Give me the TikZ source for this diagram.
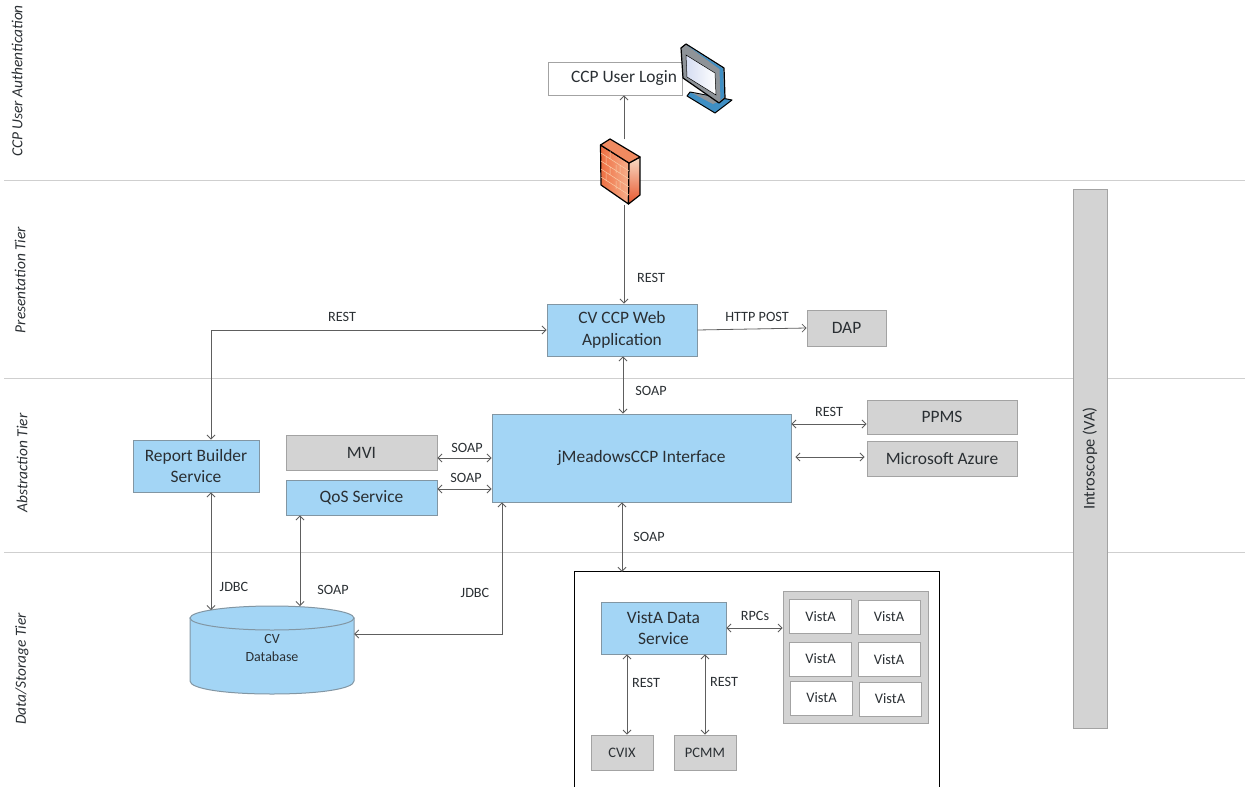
\documentclass[tikz,border=0pt]{standalone}
\usepackage{fontspec}
\setmainfont{Carlito}
\usetikzlibrary{arrows.meta}
\definecolor{bluefill}{HTML}{A3D5F5}
\definecolor{blueedge}{HTML}{8296A3}
\definecolor{greyfill}{HTML}{D3D3D3}
\definecolor{greyedge}{HTML}{A3A3A3}
\definecolor{inktext}{HTML}{2A2F33}
\definecolor{wire}{HTML}{5E5E5E}
\definecolor{tier}{HTML}{CFCFCF}
\definecolor{brick}{HTML}{F9CDA8}
\definecolor{wallA}{HTML}{EE6F42}
\definecolor{wallB}{HTML}{F6B08C}
\definecolor{wallC}{HTML}{E8552C}
\definecolor{wallD}{HTML}{F8DCC6}
\definecolor{wallE}{HTML}{F08A60}
\definecolor{monblue}{HTML}{3F8FC4}
\definecolor{mongrey}{HTML}{8E9398}
\definecolor{monlight}{HTML}{D5DDF2}
\tikzset{
  basebox/.style={inner sep=0pt,align=center,text=inktext,font=\fontsize{17.4}{21.5}\selectfont,line width=.9pt},
  bluebox/.style={basebox,draw=blueedge,fill=bluefill},
  greybox/.style={basebox,draw=greyedge,fill=greyfill},
  whitebox/.style={basebox,draw=greyedge,fill=white},
  vistabox/.style={whitebox,minimum width=62pt,minimum height=34pt,font=\fontsize{14.5}{17}\selectfont},
  sz/.style 2 args={minimum width=#1pt,minimum height=#2pt},
  lbl/.style={inner sep=0pt,text=inktext,font=\fontsize{14.2}{17}\selectfont},
  tierlbl/.style={inner sep=0pt,rotate=90,text=inktext,font=\itshape\fontsize{15.4}{18}\selectfont},
  conn/.style={draw=wire,line width=.8pt,{Straight Barb[length=4pt,width=8pt]}-{Straight Barb[length=4pt,width=8pt]}},
  connone/.style={draw=wire,line width=.8pt,-{Straight Barb[length=4pt,width=8pt]}},
  tierline/.style={draw=tier,line width=.8pt}
}
\begin{document}
\begin{tikzpicture}[x=1pt,y=-1pt]
\useasboundingbox (0,0) rectangle (1245,787);
% tier rules
\coordinate (la) at (4,180); \coordinate (ra) at (1245,180);
\coordinate (lb) at (4,378); \coordinate (rb) at (1245,378);
\coordinate (lc) at (4,552); \coordinate (rc) at (1245,552);
\draw[tierline] (la) -- (ra);
\draw[tierline] (lb) -- (rb);
\draw[tierline] (lc) -- (rc);
% tier labels
\node[tierlbl] (t1) at (17,81) {CCP User Authentication};
\node[tierlbl] (t2) at (20,280) {Presentation Tier};
\node[tierlbl] (t3) at (22,463) {Abstraction Tier};
\node[tierlbl] (t4) at (22,669) {Data/Storage Tier};
% nodes
\node[whitebox,sz={134}{33}] (login) at (615,78.5) {\hspace*{18pt}CCP User Login};
\node[bluebox,sz={150}{52}] (web) at (622,330) {CV CCP Web\\Application};
\node[greybox,sz={79}{36}] (dap) at (846.5,328) {DAP};
\node[bluebox,sz={299}{88}] (jm) at (641.5,458) {jMeadowsCCP Interface};
\node[greybox,sz={150}{34}] (ppms) at (942,417) {PPMS};
\node[greybox,sz={150}{35}] (azure) at (942,458.5) {Microsoft Azure};
\node[greybox,sz={151}{35}] (mvi) at (361.5,452.5) {MVI};
\node[bluebox,sz={151}{35}] (qos) at (361.5,497.5) {QoS Service};
\node[bluebox,sz={126}{52}] (report) at (196,466) {Report Builder\\Service};
% database
\node[inner sep=0pt,sz={164}{88}] (db) at (272,650) {};
\fill[bluefill,draw=blueedge,line width=1pt] (190,618) -- (190,681) .. controls (190,689) and (226,694) .. (272,694) .. controls (318,694) and (354,689) .. (354,681) -- (354,618) -- cycle;
\draw[fill=bluefill,draw=blueedge,line width=1pt] (272,618) ellipse [x radius=82,y radius=12];
\node[lbl,align=center,font=\fontsize{14}{18}\selectfont] (dbt) at (272,648) {CV\\Database};
% vista container
\node[inner sep=0pt,sz={364}{215}] (vbox) at (757,679.5) {};
\draw[black,line width=.9pt] (vbox.south west) -- (vbox.north west) -- (vbox.north east) -- (vbox.south east);
\node[bluebox,sz={125}{52}] (vds) at (663.5,628) {VistA Data\\Service};
\node[greybox,sz={145}{132}] (vgrp) at (855.5,657) {};
\node[vistabox] (v1) at (820.5,616.5) {VistA};
\node[vistabox] (v2) at (889,617) {VistA};
\node[vistabox] (v3) at (820.5,659) {VistA};
\node[vistabox] (v4) at (889,659.5) {VistA};
\node[vistabox] (v5) at (821.5,698) {VistA};
\node[vistabox] (v6) at (890,699) {VistA};
\node[greybox,sz={62}{35},font=\fontsize{14.5}{17}\selectfont] (cvix) at (622,752.5) {CVIX};
\node[greybox,sz={62}{35},font=\fontsize{14.5}{17}\selectfont] (pcmm) at (705,752.5) {PCMM};
% introscope
\node[greybox,sz={539}{34},rotate=90,font=\fontsize{16.4}{20}\selectfont] (intro) at (1090,458.5) {Introscope (VA)};
% firewall and monitor anchors
\node[inner sep=0pt,sz={40}{65}] (fw) at (620,172) {};
\node[inner sep=0pt,sz={54}{72}] (mon) at (707,78) {};
% connectors
\draw[connone] ([xshift=4pt]fw.north) -- (login.south -| 624,0);
\draw[connone] ([xshift=4pt]fw.south) -- (web.north -| 624,0);
\draw[conn] (web.west) -- (211,330) -- (report.north -| 211,0);
\draw[connone] (web.east) -- (dap.west);
\draw[conn] (web.south -| 623,0) -- (jm.north -| 623,0);
\draw[conn] (jm.east |- 0,424) -- (ppms.west |- 0,424);
\draw[conn] ([xshift=4pt]jm.east |- 0,457) -- ([xshift=-2pt]azure.west |- 0,457);
\draw[conn] (mvi.east |- 0,458) -- (jm.west |- 0,458);
\draw[conn] (qos.east |- 0,489) -- (jm.west |- 0,489);
\draw[conn] (jm.south -| 622,0) -- (vbox.north -| 622,0);
\draw[conn] (report.south -| 211,0) -- (211,610);
\draw[conn] (qos.south -| 300,0) -- (300,606);
\draw[conn] (db.east |- 0,634) -- (502,634) -- (jm.south -| 502,0);
\draw[conn] (vds.east) -- (vgrp.west |- vds.east);
\draw[conn] (vds.south -| 627,0) -- (cvix.north -| 627,0);
\draw[conn] (vds.south -| pcmm.north) -- (pcmm.north);
% firewall
\draw[black,line width=1.2pt,line join=round,left color=wallA,right color=wallB] (600.5,145) -- (629,163) -- (628.5,204) -- (601,185) -- cycle;
\draw[black,line width=1.2pt,line join=round,top color=wallD,bottom color=wallC] (629,163) -- (640,157) -- (640,195) -- (628.5,204) -- cycle;
\draw[black,line width=1.2pt,line join=round,fill=wallE] (600.5,145) -- (610,139) -- (640,157) -- (629,163) -- cycle;
\draw[brick,line width=.5pt] (601,153) -- (629,171) (601,161) -- (629,179) (601,169) -- (629,187) (601,177) -- (629,195)
  (610,151) -- (610,159) (620,165) -- (620,173) (606,157) -- (606,165) (616,165) -- (616,173) (610,167) -- (610,175) (620,181) -- (620,189) (606,173) -- (606,181) (616,181) -- (616,189);
% monitor
\draw[black,line width=1pt,line join=round,fill=monblue] (687,96) -- (690,92) -- (732,100) -- (715,113) -- cycle;
\fill[mongrey] (692,93) -- (724,99) -- (713,104) -- cycle;
\draw[black,line width=1.2pt,line join=round,fill=mongrey] (681,48) -- (686,44) -- (724,68) -- (725,98) -- (719,103) -- (683,78) -- cycle;
\fill[monblue] (688,46) -- (723,68.5) -- (724,97) -- (720.5,100) -- (719.5,69) -- cycle;
\shade[left color=monlight,right color=white,draw=black,line width=.5pt] (686,55) -- (715,73) -- (716,95) -- (687,77) -- cycle;
% connector labels
\node[lbl] (l1) at (651,278) {REST};
\node[lbl] (l2) at (342,317) {REST};
\node[lbl] (l3) at (757,317) {HTTP POST};
\node[lbl] (l4) at (651,391) {SOAP};
\node[lbl] (l5) at (829,412) {REST};
\node[lbl] (l6) at (467,448) {SOAP};
\node[lbl] (l7) at (466,478) {SOAP};
\node[lbl] (l8) at (649,537) {SOAP};
\node[lbl] (l9) at (234,587) {JDBC};
\node[lbl] (l10) at (333,590) {SOAP};
\node[lbl] (l11) at (475,593) {JDBC};
\node[lbl] (l12) at (755,616) {RPCs};
\node[lbl] (l13) at (646,683) {REST};
\node[lbl] (l14) at (724,682) {REST};
\end{tikzpicture}
\end{document}
